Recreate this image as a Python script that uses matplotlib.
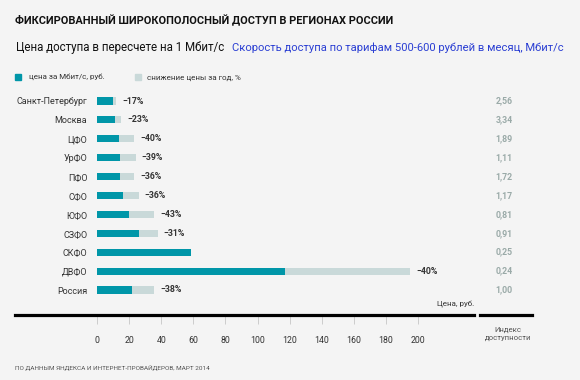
import numpy as np
import matplotlib.pyplot as plt
from matplotlib.transforms import blended_transform_factory
from matplotlib.lines import Line2D
from matplotlib.patches import Rectangle

plt.rcParams['font.family'] = ['Roboto', 'DejaVu Sans']

# data
regions = ['Санкт-Петербург', 'Москва', 'ЦФО', 'УрФО', 'ПФО', 'СФО',
           'ЮФО', 'СЗФО', 'СКФО', 'ДВФО', 'Россия']
price_now = [10.1, 11.5, 13.8, 14.5, 14.6, 16.5, 20.2, 26.0, 58.7, 117.4, 21.9]
price_year_ago = [12.0, 15.0, 23.2, 24.0, 23.0, 25.9, 35.8, 37.7, 58.7, 195.0, 35.3]
drop_labels = ['−17%', '−23%', '−40%', '−39%', '−36%', '−36%',
               '−43%', '−31%', '', '−40%', '−38%']
access_index = ['2,56', '3,34', '1,89', '1,11', '1,72', '1,17',
                '0,81', '0,91', '0,25', '0,24', '1,00']
x_ticks = [0, 20, 40, 60, 80, 100, 120, 140, 160, 180, 200]

W, H = 580, 380
bg = '#f4f4f4'
teal = '#0096a8'
light = '#c9d9d9'

fig = plt.figure(figsize=(W / 100, H / 100), dpi=100, facecolor=bg)

def fx(px):
    return px / W

def fy(py):
    return 1 - py / H

# main axes: 0..200 maps to px 97..418, rows from 101 to 290
top, bottom = 91.55, 299.45
ax = fig.add_axes([fx(97), fy(bottom), fx(418) - fx(97), (bottom - top) / H])
ax.set_facecolor('none')
# spine position first, it resets tick styling
ax.spines['bottom'].set_position(('outward', 12))
for s in ax.spines.values():
    s.set_visible(False)
ax.set_xlim(0, 200)
ax.set_ylim(10.5, -0.5)

y = np.arange(len(regions))
ax.barh(y, price_year_ago, height=0.38, color=light, zorder=1)
ax.barh(y, price_now, height=0.38, color=teal, zorder=2)

for i, lab in enumerate(drop_labels):
    if lab:
        ax.annotate(lab, (price_year_ago[i], i), xytext=(4.5, 0),
                    textcoords='offset points', va='center', ha='left',
                    fontsize=6.3, fontweight='bold', color='#333333',
                    annotation_clip=False)

ax.set_yticks(y)
ax.set_yticklabels(regions, fontsize=6.5, color='#333333')
ax.tick_params(axis='y', length=0, pad=7)

ax.set_xticks(x_ticks)
ax.set_xticklabels([str(t) for t in x_ticks], fontsize=6.3, color='#333333')
ax.tick_params(axis='x', direction='out', length=6, width=0.7,
               color='#cccccc', pad=8)

# index column
tr = blended_transform_factory(fig.transFigure, ax.transData)
for i, v in enumerate(access_index):
    ax.text(fx(504), i, v, transform=tr, ha='center', va='center',
            fontsize=6.3, fontweight='bold', color='#9aaaa8')

# thick axis lines
fig.add_artist(Line2D([fx(15), fx(474)], [fy(314.5), fy(314.5)],
                      color='black', lw=2.3, transform=fig.transFigure))
fig.add_artist(Line2D([fx(480), fx(532)], [fy(314.5), fy(314.5)],
                      color='black', lw=2.3, transform=fig.transFigure))

fig.text(fx(474), fy(305), 'Цена, руб.', ha='right', va='center',
         fontsize=5.8, color='#333333')
fig.text(fx(508), fy(334), 'Индекс\nдоступности', ha='center', va='center',
         fontsize=5.6, color='#555555', linespacing=1.3)

# titles
fig.text(fx(15), fy(21), 'ФИКСИРОВАННЫЙ ШИРОКОПОЛОСНЫЙ ДОСТУП В РЕГИОНАХ РОССИИ',
         ha='left', va='center', fontsize=7.9, fontweight='bold', color='#111111')
fig.text(fx(16), fy(48), 'Цена доступа в пересчете на 1 Мбит/с',
         ha='left', va='center', fontsize=8.3, color='#111111')
fig.text(fx(232), fy(48), 'Скорость доступа по тарифам 500-600 рублей в месяц, Мбит/с',
         ha='left', va='center', fontsize=8.1, color='#2b3fd3')

# legend
fig.add_artist(Rectangle((fx(15), fy(80)), 6 / W, 6 / H, color=teal,
                         transform=fig.transFigure))
fig.text(fx(29), fy(77), 'цена за Мбит/с, руб.', ha='left', va='center',
         fontsize=5.8, color='#333333')
fig.add_artist(Rectangle((fx(135), fy(80)), 6 / W, 6 / H, color=light,
                         transform=fig.transFigure))
fig.text(fx(147), fy(78), 'снижение цены за год, %', ha='left', va='center',
         fontsize=5.8, color='#333333')

fig.text(fx(15), fy(367), 'ПО ДАННЫМ ЯНДЕКСА И ИНТЕРНЕТ-ПРОВАЙДЕРОВ, МАРТ 2014',
         ha='left', va='center', fontsize=4.6, color='#555555')

fig.savefig('out.png', dpi=100, facecolor=bg)
